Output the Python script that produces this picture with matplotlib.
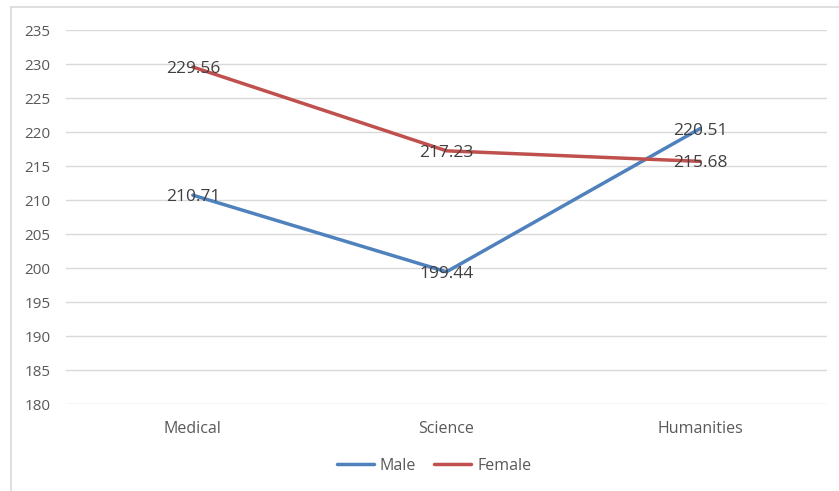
import matplotlib.pyplot as plt
from matplotlib.lines import Line2D

# scores by stream
categories = ["Medical", "Science", "Humanities"]
male = [210.71, 199.44, 220.51]
female = [229.56, 217.23, 215.68]
y_ticks = [180, 185, 190, 195, 200, 205, 210, 215, 220, 225, 230, 235]

plt.rcParams['font.family'] = ['Open Sans', 'DejaVu Sans']

W, H = 839, 491
fig = plt.figure(figsize=(W / 100, H / 100), dpi=100)
# chart frame: only the top and left edges fall inside the image
frame = dict(transform=fig.transFigure, color="#D9D9D9", linewidth=1.2)
fig.lines.append(Line2D([11 / W, 11 / W], [0, 1 - 7 / H], **frame))
fig.lines.append(Line2D([11 / W, 1], [1 - 7 / H, 1 - 7 / H], **frame))

ax = fig.add_axes([66 / W, 1 - 404 / H, (827 - 66) / W, (404 - 30) / H])
x = [0.5, 1.5, 2.5]
ax.plot(x, male, color="#4F81BD", linewidth=2.5, label="Male", solid_capstyle="round")
ax.plot(x, female, color="#C0504D", linewidth=2.5, label="Female", solid_capstyle="round")

for xi, v in zip(x, male):
    ax.text(xi, v, f"{v:.2f}", ha="center", va="center_baseline", fontsize=12.5, color="#404040")
for xi, v in zip(x, female):
    ax.text(xi, v, f"{v:.2f}", ha="center", va="center_baseline", fontsize=12.5, color="#404040")

ax.set_xlim(0, 3)
ax.set_ylim(180, 235)
ax.set_yticks(y_ticks)
ax.set_xticks(x)
ax.set_xticklabels(categories)
ax.tick_params(length=0, labelsize=11, labelcolor="#595959")
ax.tick_params(axis="x", labelsize=11.5, pad=12)
ax.tick_params(axis="y", pad=11)
ax.grid(axis="y", color="#D9D9D9", linewidth=1)
ax.set_axisbelow(True)
for s in ax.spines.values():
    s.set_visible(False)

ax.legend(loc="center", bbox_to_anchor=((434 - 66) / 761, (466 - 404) / -(404 - 30)), ncol=2,
          frameon=False, fontsize=11.5, labelcolor="#595959", handlelength=2.3,
          columnspacing=1.1, handletextpad=0.4)

fig.savefig("out.png", dpi=100)
